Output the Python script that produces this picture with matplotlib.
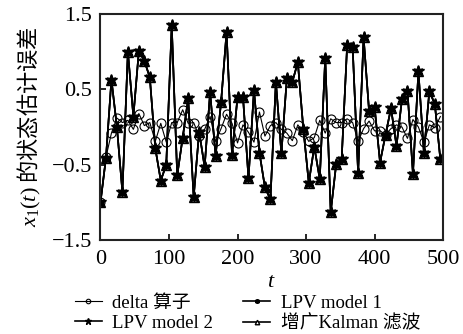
import numpy as np
import matplotlib
matplotlib.use("Agg")
from matplotlib import pyplot as plt

plt.rcParams['font.family'] = ['Liberation Serif', 'Noto Sans CJK SC']
plt.rcParams['mathtext.fontset'] = 'custom'
plt.rcParams['mathtext.it'] = 'Liberation Serif:italic'
plt.rcParams['mathtext.rm'] = 'Liberation Serif'

# sample times
t = np.arange(0, 500, 8)

# delta operator estimate error
delta_err = [-1.00, -0.40, -0.08, 0.12, 0.06, 0.09, -0.03, 0.18, 0.02, 0.06,
             -0.19, 0.05, -0.20, 0.06, 0.06, 0.23, 0.05, 0.06, -0.12, -0.03,
             0.14, -0.19, -0.02, 0.17, 0.05, -0.21, 0.03, -0.07, -0.20, 0.20,
             -0.12, 0.02, 0.06, -0.03, -0.08, -0.18, 0.03, -0.07, -0.19, -0.14,
             0.09, -0.08, 0.11, 0.06, 0.06, 0.11, 0.06, -0.19, -0.02, 0.08,
             -0.05, -0.05, -0.10, -0.02, 0.03, 0.00, -0.15, 0.10, 0.00, -0.20,
             0.03, -0.01, 0.14]

# LPV model 1 / LPV model 2 / augmented Kalman (curves lie on top of each other)
lpv1_err = [-1.00, -0.41, 0.63, 0.00, -0.86, 1.00, 0.14, 1.01, 0.88, 0.66,
            -0.28, -0.71, -0.50, 1.35, -0.64, -0.14, 0.38, -0.93, -0.06, -0.53,
            0.46, -0.38, 0.33, 1.26, -0.37, 0.40, 0.40, -0.68, 0.49, -0.34,
            -0.80, -0.96, 0.60, -0.35, 0.65, 0.60, 0.86, -0.02, -0.74, -0.26,
            -0.69, 0.92, -1.13, -0.49, -0.42, 1.09, 1.06, -0.61, 1.19, 0.21,
            0.27, -0.47, -0.10, 0.25, -0.25, 0.37, 0.48, -0.62, 0.74, -0.34,
            0.48, 0.30, -0.43]
lpv2_err = list(lpv1_err)
kalman_err = list(lpv1_err)

fig = plt.figure(figsize=(4.63, 3.34), dpi=100)
ax = fig.add_axes([0.217, 0.281, 0.740, 0.677])

l_kal, = ax.plot(t, kalman_err, '-', color='black', lw=1.2, marker='^',
                 ms=6.5, mfc='white', mec='black', mew=1.0)
l_lpv2, = ax.plot(t, lpv2_err, '-', color='black', lw=1.2, marker='*',
                  ms=9, mfc='black', mec='black')
l_lpv1, = ax.plot(t, lpv1_err, '-', color='black', lw=1.2, marker=(6, 2, 0),
                  ms=7, mec='black', mew=1.2)
l_delta, = ax.plot(t, delta_err, '-', color='black', lw=0.8, marker='o',
                   ms=6.5, mfc='none', mec='black', mew=0.8)

ax.set_xlim(0, 500)
ax.set_ylim(-1.5, 1.5)
ax.set_xticks([0, 100, 200, 300, 400, 500])
ax.set_yticks([-1.5, -0.5, 0.5, 1.5])
ax.set_yticklabels(['\u22121.5', '\u22120.5', '0.5', '1.5'])
ax.tick_params(direction='in', length=4, width=1.2, labelsize=16)
ax.tick_params(axis='x', pad=7)
ax.tick_params(axis='y', pad=6)
for s in ax.spines.values():
    s.set_linewidth(1.5)
    s.set_color('#222222')

ax.set_xlabel('$t$', fontsize=16, labelpad=3)
ax.set_ylabel('$x_1(t)$ 的状态估计误差', fontsize=16, labelpad=6,
              family='Noto Sans CJK SC')

leg = fig.legend([l_delta, l_lpv2, l_lpv1, l_kal],
                 ['delta 算子', 'LPV model 2', 'LPV model 1', '增广Kalman 滤波'],
                 ncol=2, frameon=False, fontsize=13.5, loc='lower left',
                 bbox_to_anchor=(0.125, -0.045), handlelength=1.45,
                 handletextpad=0.55, columnspacing=1.6, labelspacing=0.15,
                 markerscale=0.5)

fig.savefig('out.png', dpi=100)
